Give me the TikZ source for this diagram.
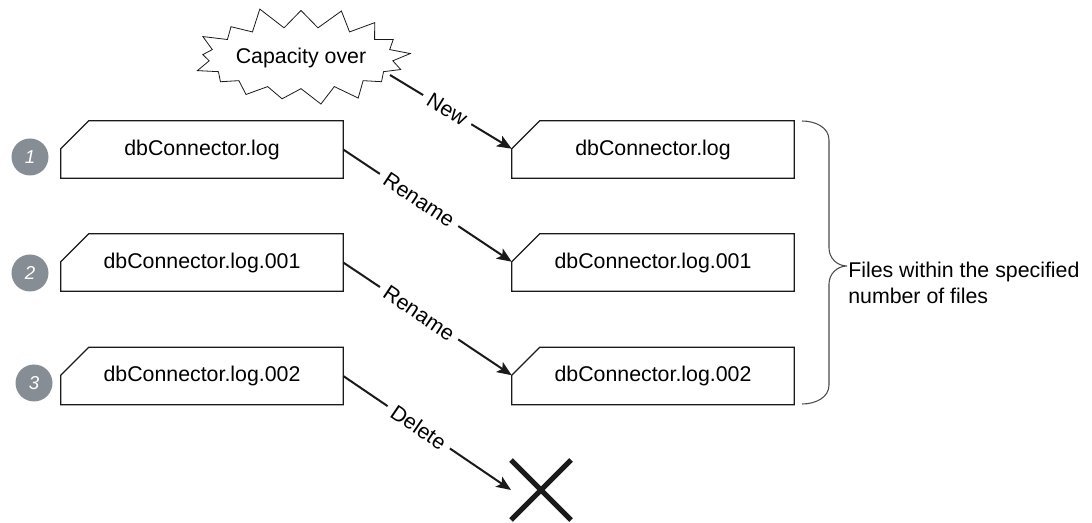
\documentclass[tikz,border=0pt]{standalone}
\usepackage{fontspec}
\setmainfont{Liberation Sans}
\usetikzlibrary{arrows.meta,positioning,shapes.symbols,shapes.misc}
\definecolor{ink}{HTML}{1A1A1A}
\definecolor{inkgray}{HTML}{4A4A4A}
\definecolor{badgegray}{HTML}{868D94}
\tikzset{
  filebox/.style={minimum width=211.5pt,minimum height=42.75pt,inner sep=0pt,
                  font=\fontsize{16}{19.2}\selectfont},
  fileedge/.style={draw=ink,line width=0.9pt,line join=miter},
  numbadge/.style={circle,fill=badgegray,text=white,minimum size=27.75pt,
                   inner sep=0pt,font=\itshape\fontsize{14}{15}\selectfont},
  burst/.style={starburst,draw=ink,line width=0.6pt,fill=white,
                starburst points=17,starburst point height=17pt,random starburst=11,
                minimum width=158pt,minimum height=80pt,inner sep=0pt,
                font=\fontsize{16}{19.2}\selectfont},
  flowarr/.style={-{Stealth[length=11pt,width=9pt,inset=2.5pt]},line width=1.5pt,draw=ink},
  arrlabel/.style={sloped,fill=white,inner sep=5pt,font=\fontsize{16}{19.2}\selectfont},
  bracket/.style={line width=0.8pt,color=inkgray}
}
\begin{document}
\begin{tikzpicture}[x=0.75pt,y=-0.75pt]
  \useasboundingbox (0,0) rectangle (1092,523);
  % trigger
  \node[burst] (burst) at (301,58) {Capacity over};
  \coordinate (burst-out) at (390,75);
  % log files before and after the switch
  \node[filebox] (old1) at (202,149.5) {dbConnector.log};
  \node[filebox] (old2) at (202,262.5) {dbConnector.log.001};
  \node[filebox] (old3) at (202,376) {dbConnector.log.002};
  \node[filebox] (new1) at (653,149.5) {dbConnector.log};
  \node[filebox] (new2) at (653,262.5) {dbConnector.log.001};
  \node[filebox] (new3) at (653,376) {dbConnector.log.002};
  \foreach \b in {old1,old2,old3,new1,new2,new3} {
    \draw[fileedge] (\b.south west) -- (\b.south east) -- (\b.north east)
      -- ([xshift=21pt]\b.north west) -- ([yshift=-21pt]\b.north west) -- cycle;
  }
  \foreach \b in {new1,new2,new3} {
    \coordinate (\b-in) at ([yshift=-21pt]\b.north west);
  }
  % step numbers
  \node[numbadge] (step1) at (30,157) {1};
  \node[numbadge] (step2) at (30,273) {2};
  \node[numbadge] (step3) at (34,383) {3};
  % removed file
  \node[draw=ink,cross out,line width=3.8pt,minimum size=45pt,
        inner sep=0pt,outer sep=0pt] (gone) at (541,490) {};
  % connectors
  \draw[flowarr] (burst-out) -- node[arrlabel,pos=0.47] {New} (new1-in);
  \draw[flowarr] (old1.east) -- node[arrlabel,pos=0.45] {Rename} (new2-in);
  \draw[flowarr] (old2.east) -- node[arrlabel,pos=0.45] {Rename} (new3-in);
  \draw[flowarr] (old3.east) -- node[arrlabel,pos=0.45] {Delete} (gone.west);
  % kept files
  \draw[bracket] (802,121) to[out=0,in=90] (829,140) -- (829,248)
    to[out=-90,in=180] (847,266) to[out=180,in=90] (829,284)
    -- (829,385) to[out=-90,in=0] (802,404);
  \node[anchor=north west,inner sep=0pt,align=left,
        font=\fontsize{16}{19.5}\selectfont] (limit) at (848,261.5)
    {Files within the specified\\number of files};
\end{tikzpicture}
\end{document}
